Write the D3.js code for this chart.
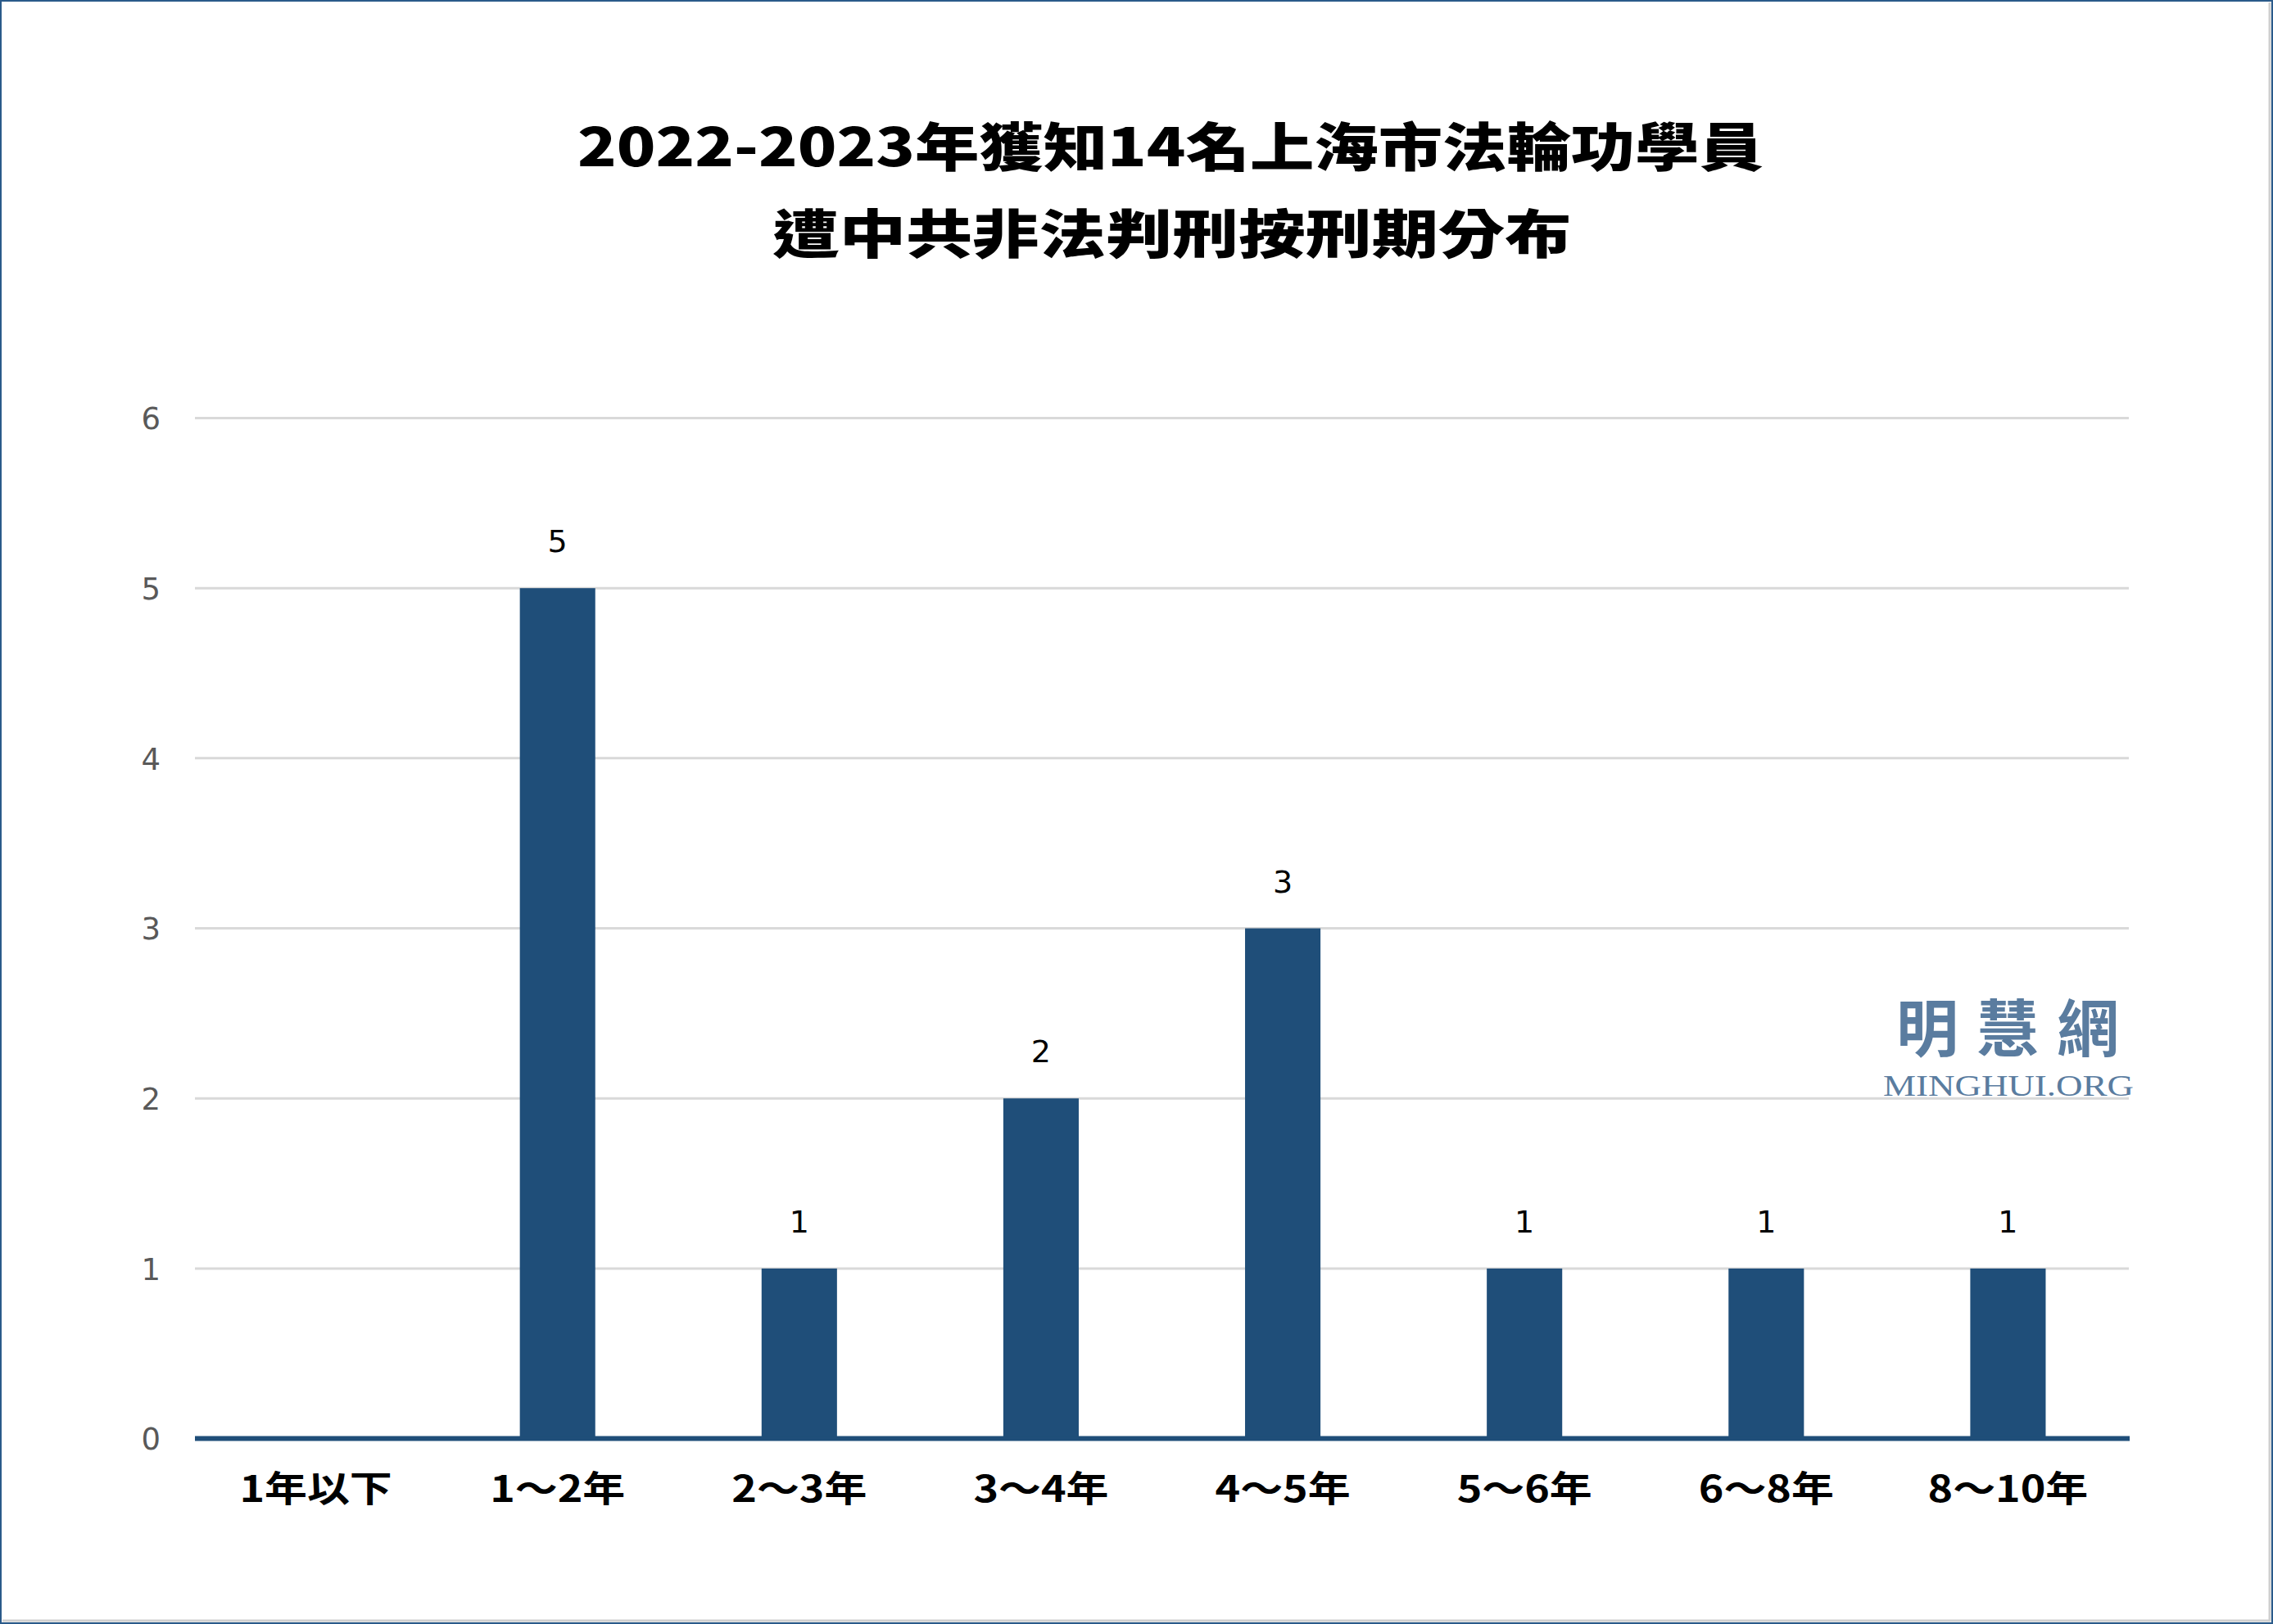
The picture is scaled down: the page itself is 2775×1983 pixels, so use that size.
<!DOCTYPE html>
<html><head><meta charset="utf-8">
<script src="https://cdn.jsdelivr.net/npm/d3@7"></script>
<style>html,body{margin:0;padding:0;background:#fff;overflow:hidden}</style>
</head><body>
<script>
const categories = ["1年以下","1～2年","2～3年","3～4年","4～5年","5～6年","6～8年","8～10年"];
const values = [0,5,1,2,3,1,1,1];
const yTicks = [0,1,2,3,4,5,6];
const titleLines = ["2022-2023年獲知14名上海市法輪功學員","遭中共非法判刑按刑期分布"];
const watermarkCN = "明慧網";
const watermarkEN = "MINGHUI.ORG";

(function(){
const W = 2775, H = 1983;
const svg = d3.select("body").append("svg").attr("width", W).attr("height", H);
svg.append("rect").attr("width", W).attr("height", H).attr("fill", "#fff");
// border
svg.append("rect").attr("x",1).attr("y",1).attr("width",W-2).attr("height",H-2)
  .attr("fill","none").attr("stroke","#2a5a8a").attr("stroke-width",2);
svg.append("line").attr("x1",W-4).attr("x2",W-4).attr("y1",3).attr("y2",H-3).attr("stroke","#cfcfcf").attr("stroke-width",3);
svg.append("line").attr("x1",3).attr("x2",W-3).attr("y1",H-4).attr("y2",H-4).attr("stroke","#cfcfcf").attr("stroke-width",3);

const pl = 238, pr = 2599, pt = 510.5, pb = 1756.6;
const x = d3.scaleBand().domain(categories).range([pl, pr]).paddingInner(0.688).paddingOuter(0.344);
const y = d3.scaleLinear().domain([0, 6]).range([pb, pt]);

// gridlines
svg.append("g").selectAll("line").data(yTicks.filter(d => d > 0)).join("line")
  .attr("x1", pl).attr("x2", pr).attr("y1", d => y(d)).attr("y2", d => y(d))
  .attr("stroke", "#d9d9d9").attr("stroke-width", 3);

// y axis labels
const yAxis = d3.axisLeft(y).tickValues(yTicks).tickSize(0).tickPadding(0).tickFormat(d3.format("d"));
const ya = svg.append("g").attr("transform", `translate(${pl-42},0)`).call(yAxis);
ya.select(".domain").remove();
ya.selectAll("text").attr("font-family","'DejaVu Sans', sans-serif").attr("font-size",37)
  .attr("fill","#595959").attr("dy","0.36em");

// bars
svg.append("g").selectAll("rect").data(values).join("rect")
  .attr("x", (d,i) => x(categories[i])).attr("width", x.bandwidth())
  .attr("y", d => y(d)).attr("height", d => pb - y(d)).attr("fill", "#1f4e79");

// x axis line
svg.append("line").attr("x1", pl).attr("x2", pr + 1).attr("y1", pb).attr("y2", pb)
  .attr("stroke", "#1f4e79").attr("stroke-width", 6);

// data labels
const lbl = svg.append("g");
values.forEach((v,i) => {
  if (v <= 0) return;
  lbl.append("text").attr("x", x(categories[i]) + x.bandwidth()/2).attr("y", y(v) - 44)
    .attr("text-anchor","middle").attr("font-family","'DejaVu Sans', sans-serif")
    .attr("font-size",38).attr("fill","#000").text(v);
});

// x category labels (stretched bold)
const xa = svg.append("g");
categories.forEach(c => {
  xa.append("g").attr("transform", `translate(${x(c) + x.bandwidth()/2},1834) scale(1.18,1)`)
    .append("text").attr("text-anchor","middle")
    .attr("font-family","'Noto Sans CJK TC', sans-serif").attr("font-weight",700)
    .attr("font-size",44).attr("fill","#000").text(c);
});

// title
const tY = [203, 309];
const tX = [1429, 1431];
const tS = [1.225, 1.27];
titleLines.forEach((t,i) => {
  svg.append("g").attr("transform", `translate(${tX[i]},${tY[i]}) scale(${tS[i]},1)`)
    .append("text").attr("text-anchor","middle")
    .attr("font-family","'Noto Sans CJK TC', sans-serif").attr("font-weight",900)
    .attr("font-size",64).attr("fill","#000").text(t);
});

// watermark
svg.append("text").attr("x", 2462).attr("y", 1284).attr("text-anchor","middle")
  .attr("font-family","'Noto Sans CJK TC', sans-serif").attr("font-weight",700)
  .attr("font-size",76).attr("letter-spacing",22).attr("fill","#5a7c9f").text(watermarkCN);
svg.append("text").attr("x", 2299).attr("y", 1338)
  .attr("font-family","'Liberation Serif', serif").attr("font-size",35)
  .attr("textLength",306).attr("lengthAdjust","spacingAndGlyphs")
  .attr("fill","#5a7c9f").text(watermarkEN);
})();
</script>
</body></html>
